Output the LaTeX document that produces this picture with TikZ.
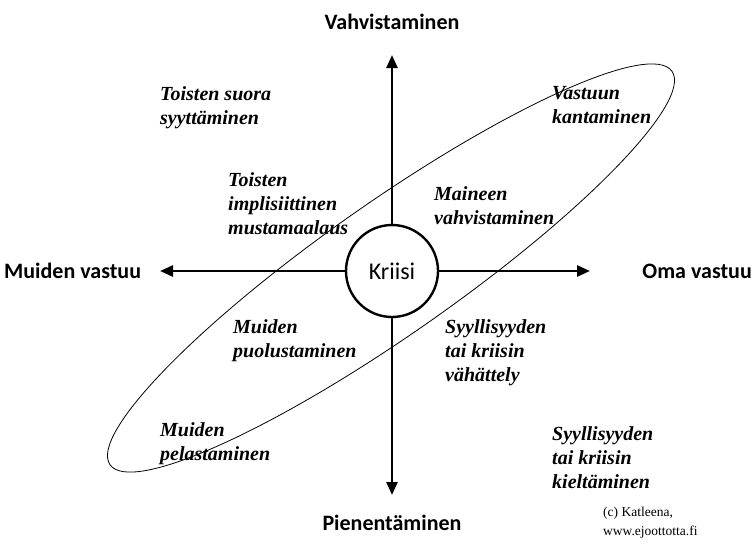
\documentclass[tikz,border=0pt]{standalone}
\usepackage{fontspec}
\setmainfont{Liberation Serif}
\newfontfamily\axisfont{Carlito}
\usetikzlibrary{arrows.meta}

\begin{document}
\begin{tikzpicture}[x=1pt,y=-1pt,
	axislabel/.style={font=\axisfont\bfseries\fontsize{22}{24}\selectfont,inner sep=0pt},
	quadtext/.style={font=\bfseries\itshape\fontsize{20}{24}\selectfont,align=left,anchor=north west,inner sep=0pt},
	axis/.style={line width=2.6pt,-{Triangle[length=13pt,width=11pt]}}]
	\useasboundingbox (0,0) rectangle (753,544);
	
	\node[circle,draw,line width=2.4pt,minimum size=92pt,inner sep=0pt,font=\axisfont\fontsize{24}{26}\selectfont] (kriisi) at (392,271) {Kriisi};
	\coordinate (ylos) at (392,55);
	\coordinate (alas) at (392,495);
	\coordinate (vasen) at (160,271);
	\coordinate (oikea) at (590,271);
	
	\draw[line width=0.8pt,rotate around={35:(391,268)}] (391,268) ellipse [x radius=343pt,y radius=66pt];
	
	\draw[axis] (kriisi) -- (ylos);
	\draw[axis] (kriisi) -- (alas);
	\draw[axis] (kriisi) -- (vasen);
	\draw[axis] (kriisi) -- (oikea);
	
	\node[axislabel] (vahvistaminen) at (392,22) {Vahvistaminen};
	\node[axislabel] (pienentaminen) at (392,523) {Pienentäminen};
	\node[axislabel,anchor=west] (muiden) at (4,271) {Muiden vastuu};
	\node[axislabel,anchor=east] (oma) at (752,271) {Oma vastuu};
	
	\node[quadtext] (suora) at (160,86) {Toisten suora\\syyttäminen};
	\node[quadtext] (kantaminen) at (552,86) {Vastuun\\kantaminen};
	\node[quadtext] (implisiittinen) at (228,172) {Toisten\\implisiittinen\\mustamaalaus};
	\node[quadtext] (maineen) at (434,186) {Maineen\\vahvistaminen};
	\node[quadtext] (puolustaminen) at (233,319) {Muiden\\puolustaminen};
	\node[quadtext] (vahattely) at (445,319) {Syyllisyyden\\tai kriisin\\vähättely};
	\node[quadtext] (pelastaminen) at (160,422) {Muiden\\pelastaminen};
	\node[quadtext] (kieltaminen) at (552,426) {Syyllisyyden\\tai kriisin\\kieltäminen};
	\node[align=left,anchor=north west,inner sep=0pt,font=\fontsize{13.5}{19}\selectfont] (tekija) at (603,507) {(c) Katleena,\\www.ejoottotta.fi};
	
\end{tikzpicture}
\end{document}
